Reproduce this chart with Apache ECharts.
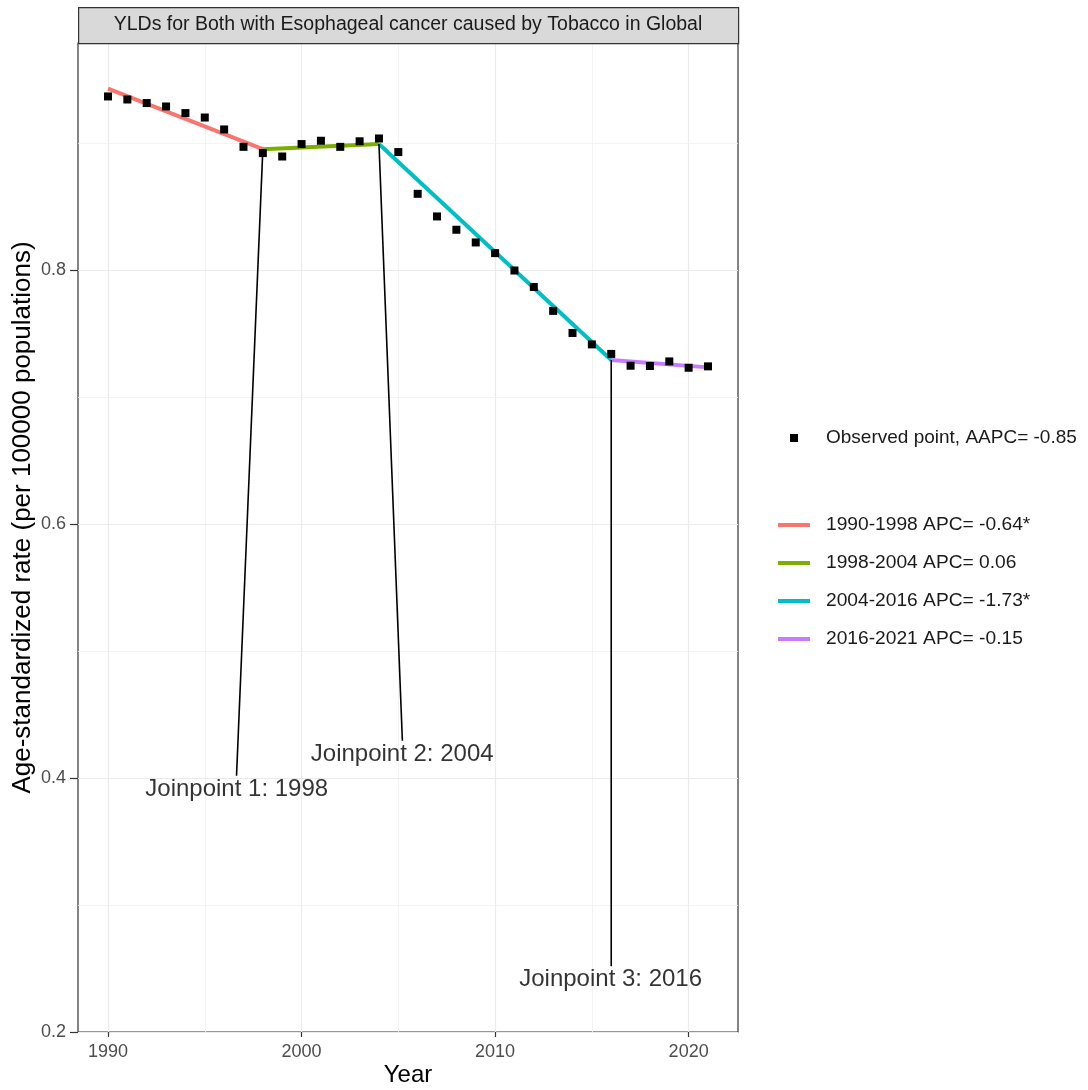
<!DOCTYPE html>
<html>
<head>
<meta charset="utf-8">
<script src="https://cdn.jsdelivr.net/npm/echarts@6/dist/echarts.min.js"></script>
<style>
html,body{margin:0;padding:0;background:#fff;}
#chart{width:1088px;height:1090px;}
</style>
</head>
<body>
<div id="chart"></div>
<script>
// ---- data ----
const titleText = 'YLDs for Both with Esophageal cancer caused by Tobacco in Global';
const years = [1990,1991,1992,1993,1994,1995,1996,1997,1998,1999,2000,2001,2002,2003,2004,2005,2006,2007,2008,2009,2010,2011,2012,2013,2014,2015,2016,2017,2018,2019,2020,2021];
const observed = [0.9369,0.9345,0.9317,0.9290,0.9238,0.9203,0.9109,0.8972,0.8923,0.8896,0.8994,0.9020,0.8972,0.9016,0.9038,0.8931,0.8602,0.8424,0.8319,0.8219,0.8135,0.7998,0.7868,0.7680,0.7506,0.7416,0.7341,0.7248,0.7246,0.7282,0.7232,0.7243];
const observedName = 'Observed point, AAPC= -0.85';
const segNames = ['1990-1998 APC= -0.64*','1998-2004 APC= 0.06','2004-2016 APC= -1.73*','2016-2021 APC= -0.15'];
const segStartYear = [1990,1998,2004,2016];
const segEndYear = [1998,2004,2016,2021];
const segStartVal = [0.9431,0.8954,0.8994,0.7293];
const segEndVal = [0.8954,0.8994,0.7293,0.7235];
const segColors = ['#F8766D','#7CAE00','#00BFC4','#C77CFF'];
const jpLabels = ['Joinpoint 1: 1998','Joinpoint 2: 2004','Joinpoint 3: 2016'];
const jpYear = [1998,2004,2016];
const jpVal = [0.8954,0.8994,0.7293];
const jpLineEndX = [1996.64,2005.21,2016.0];
const jpLineEndY = [0.4018,0.4294,0.2517];
const jpLabelX = [1996.65,2005.2,2015.97];
const jpLabelY = [0.3913,0.4183,0.2412];
const xTicks = [1990,2000,2010,2020];
const xMinorGrid = [1995,2005,2015];
const yTicks = [0.2,0.4,0.6,0.8];
const yMinorGrid = [0.3,0.5,0.7,0.9];

const FONT = '"Liberation Sans", Arial, Helvetica, sans-serif';
const chart = echarts.init(document.getElementById('chart'));

const gridMarks = [];
xTicks.forEach(v => gridMarks.push({xAxis: v, lineStyle:{color:'#ebebeb', width:1.2, type:'solid'}}));
xMinorGrid.forEach(v => gridMarks.push({xAxis: v, lineStyle:{color:'#f0f0f0', width:0.8, type:'solid'}}));
yTicks.forEach(v => gridMarks.push({yAxis: v, lineStyle:{color:'#ebebeb', width:1.2, type:'solid'}}));
yMinorGrid.forEach(v => gridMarks.push({yAxis: v, lineStyle:{color:'#f0f0f0', width:0.8, type:'solid'}}));

const series = [];
// grid lines
series.push({
  type:'line', name:'__grid', data:[], z:0, silent:true,
  markLine:{silent:true, z:0, symbol:['none','none'], label:{show:false}, animation:false,
    lineStyle:{type:'solid'}, emphasis:{disabled:true}, data:gridMarks}
});
// segments
segNames.forEach((n,i) => {
  series.push({
    type:'line', name:n, z:6,
    data:[[segStartYear[i], segStartVal[i]],[segEndYear[i], segEndVal[i]]],
    showSymbol:false, symbol:'none',
    lineStyle:{color:segColors[i], width:4},
    itemStyle:{color:segColors[i]}
  });
});
// observed
series.push({
  type:'scatter', name:observedName, z:8,
  data: years.map((y,i)=>[y, observed[i]]),
  symbol:'rect', symbolSize:8,
  itemStyle:{color:'#000', opacity:1}
});
// joinpoint connectors
jpLabels.forEach((t,i) => {
  series.push({
    type:'line', name:'__jp'+i, z:7,
    data:[[jpYear[i], jpVal[i]],[jpLineEndX[i], jpLineEndY[i]]],
    showSymbol:false, symbol:'none',
    lineStyle:{color:'#000', width:1.6}
  });
});
// joinpoint labels
series.push({
  type:'scatter', name:'__jplabels', z:9, silent:true,
  data: jpLabels.map((t,i)=>({value:[jpLabelX[i], jpLabelY[i]], name:t})),
  symbolSize:1, itemStyle:{color:'rgba(0,0,0,0)'},
  label:{show:true, position:'inside', formatter:p=>p.name, color:'#000', fontSize:24, fontFamily:FONT}
});

chart.setOption({
  animation:false,
  backgroundColor:'#fff',
  textStyle:{fontFamily:FONT},
  grid:{left:78, right:350, top:43, bottom:58, show:true, borderColor:'#333', borderWidth:1.2, backgroundColor:'#fff', containLabel:false, outerBoundsMode:'none'},
  xAxis:{
    type:'value', min:1988.45, max:2022.55,
    name:'Year', nameLocation:'middle', nameGap:31, nameMoveOverlap:false,
    nameTextStyle:{fontSize:24, color:'#000', fontFamily:FONT},
    axisLine:{show:false},
    axisTick:{show:true, length:5, lineStyle:{color:'#333', width:1.2}, customValues:xTicks},
    axisLabel:{show:true, fontSize:18, color:'#4d4d4d', margin:11, fontFamily:FONT, customValues:xTicks, formatter:v=>String(v)},
    splitLine:{show:false}
  },
  yAxis:{
    type:'value', min:0.2, max:0.979,
    name:'Age-standardized rate (per 100000 populations)', nameLocation:'middle', nameGap:42, nameRotate:90, nameMoveOverlap:false,
    nameTextStyle:{fontSize:26, color:'#000', fontFamily:FONT, padding:[0,0,0,40]},
    axisLine:{show:false},
    axisTick:{show:true, length:8, lineStyle:{color:'#333', width:1.2}, customValues:yTicks},
    axisLabel:{show:true, fontSize:18, color:'#4d4d4d', margin:12, fontFamily:FONT, customValues:yTicks, formatter:v=>v.toFixed(1)},
    splitLine:{show:false}
  },
  legend:[
    {
      data:[{name:observedName, icon:'rect', itemStyle:{color:'#000', opacity:1}}],
      left:790, top:426, orient:'vertical', padding:0,
      itemWidth:8, itemHeight:8,
      textStyle:{fontSize:19, color:'#1a1a1a', fontFamily:FONT, padding:[0,0,0,23], lineHeight:24},
      selectedMode:false
    },
    {
      data: segNames.map(n=>({name:n, icon:'rect'})),
      left:778, top:513, orient:'vertical', padding:0,
      itemWidth:32, itemHeight:4, itemGap:14,
      textStyle:{fontSize:19.2, color:'#1a1a1a', fontFamily:FONT, padding:[0,0,0,11], lineHeight:24},
      selectedMode:false
    }
  ],
  graphic:[
    {type:'rect', left:78, top:7, z:10,
     shape:{width:660, height:36}, style:{fill:'#d9d9d9', stroke:'#333', lineWidth:1.2}},
    {type:'text', x:408, y:25, z:11,
     style:{text:titleText, fill:'#1a1a1a', font:'19.5px '+FONT, textAlign:'center', textVerticalAlign:'middle'}}
  ],
  series:series
});
</script>
</body>
</html>
